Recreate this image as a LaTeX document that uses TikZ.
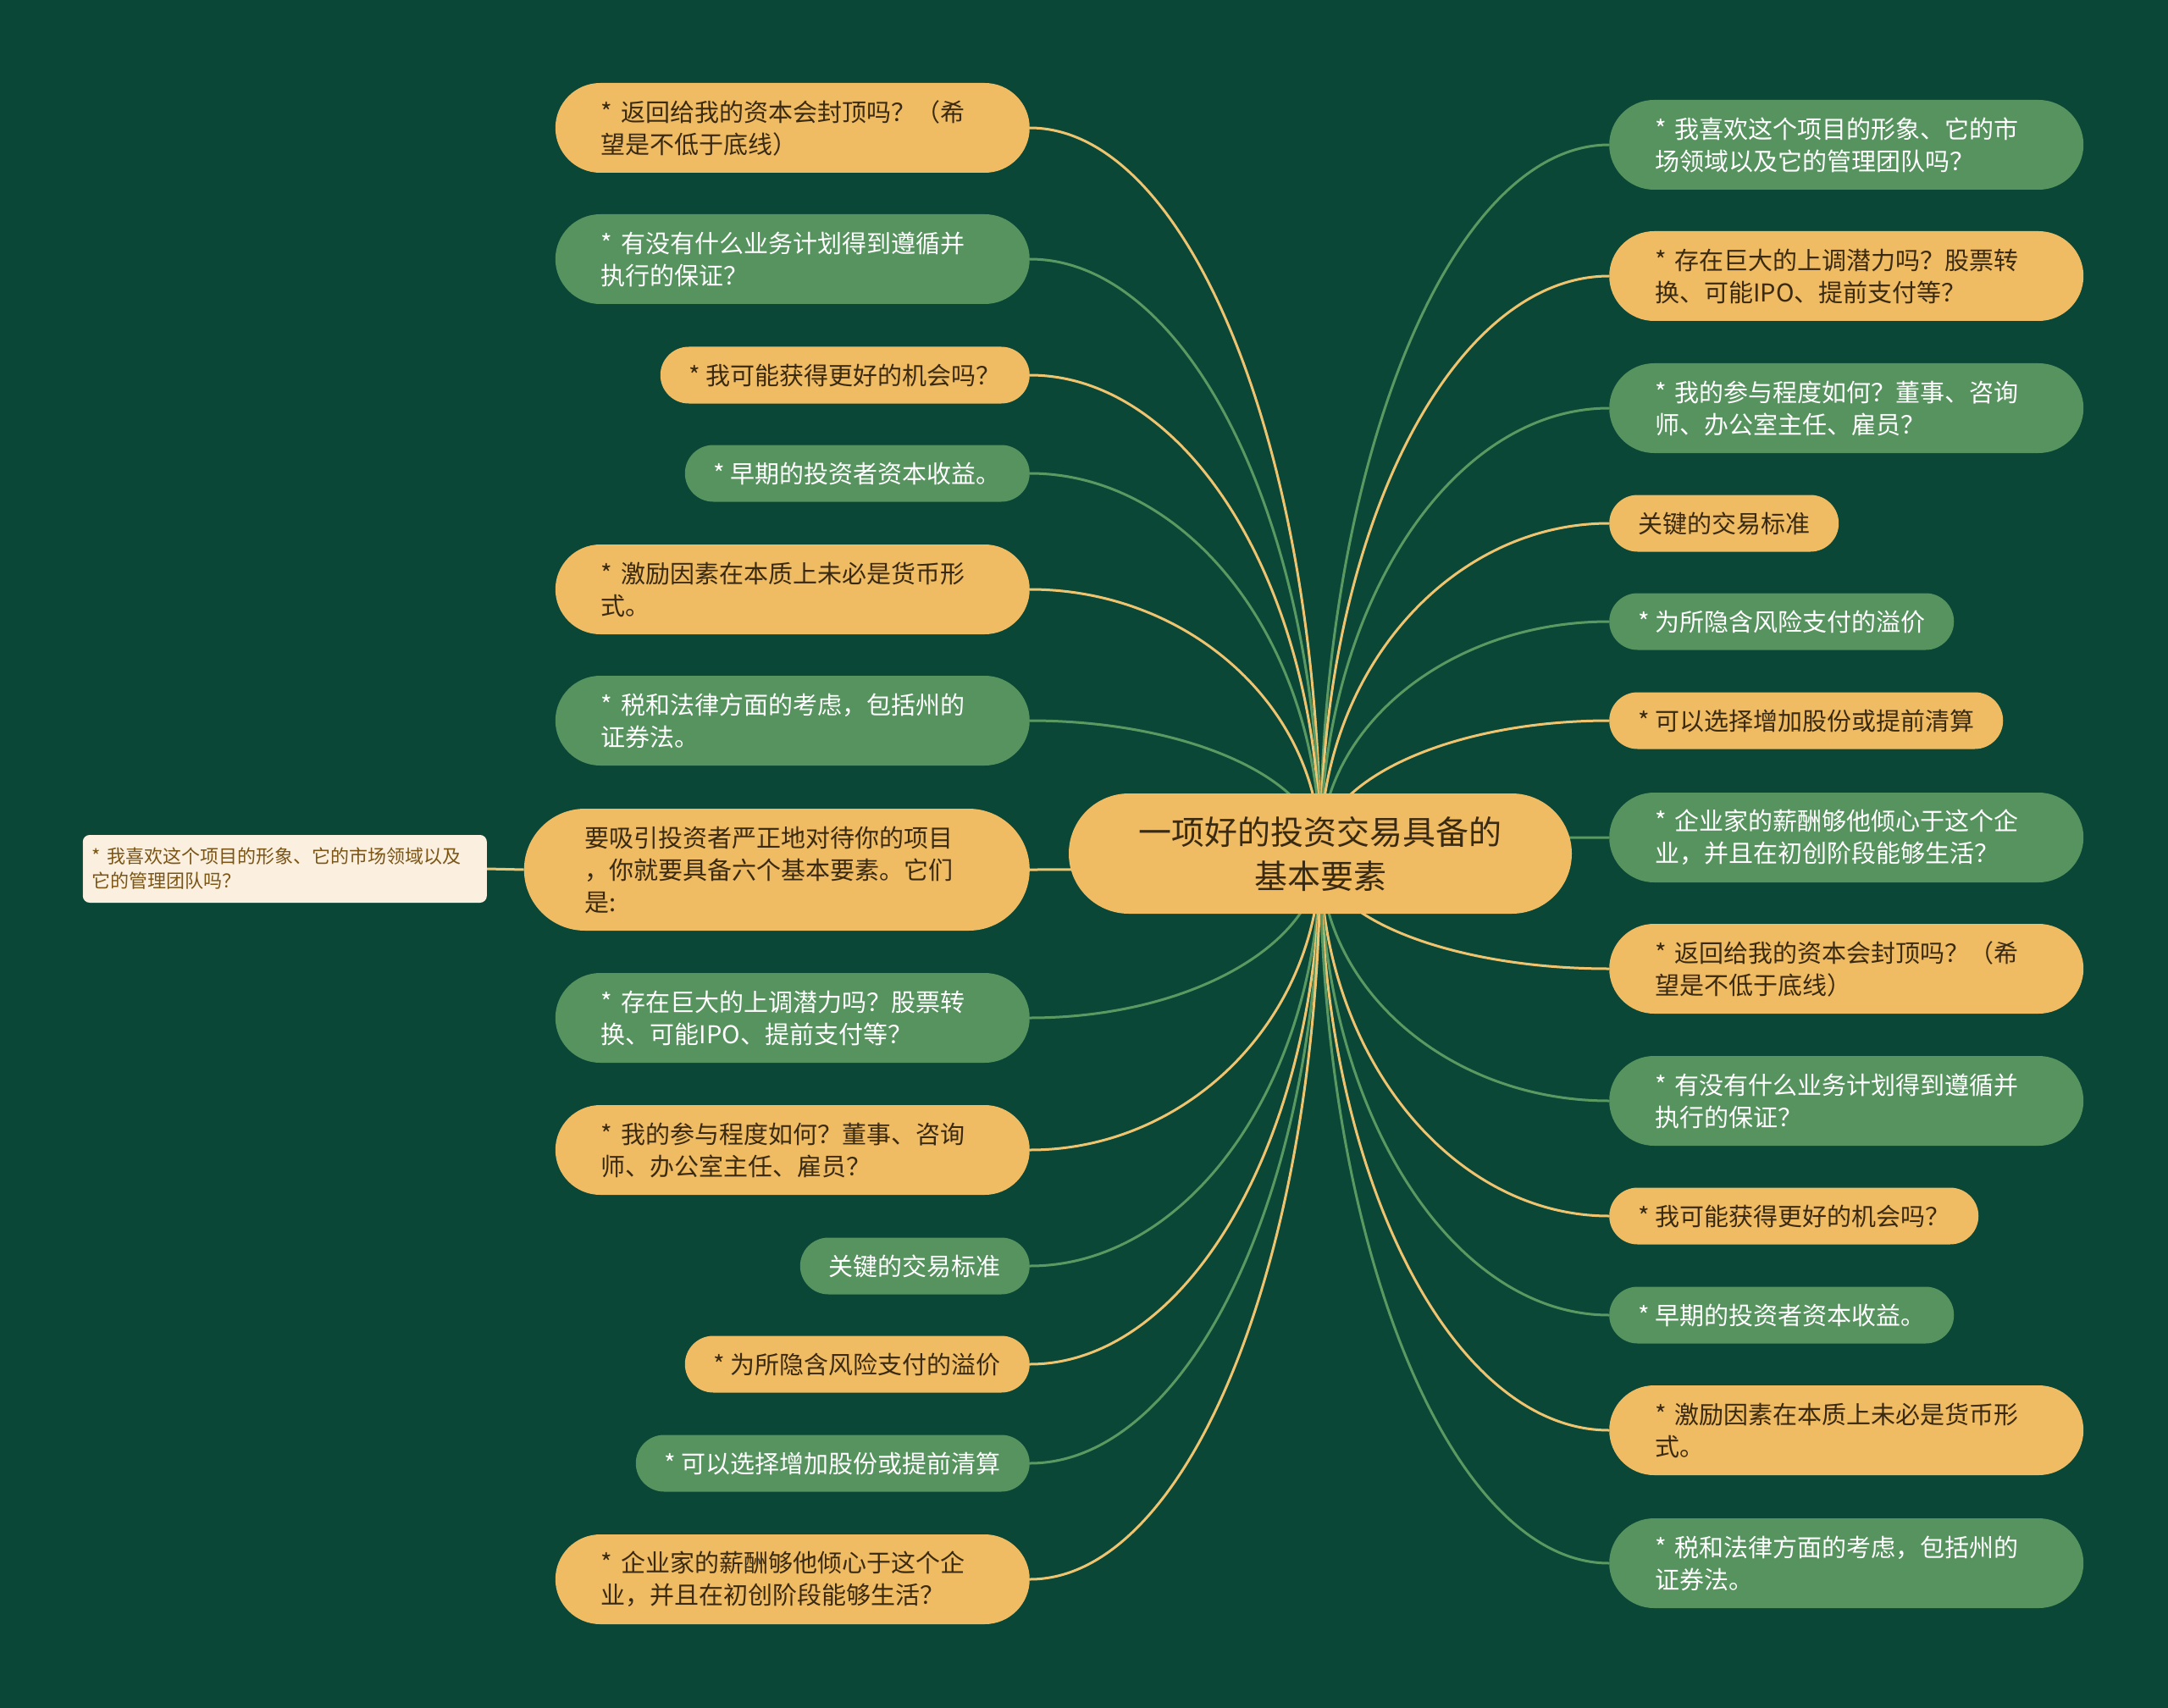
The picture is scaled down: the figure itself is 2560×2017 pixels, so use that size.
\documentclass[tikz,border=0pt]{standalone}
\usepackage{fontspec}
\newfontfamily\cjk{Noto Sans CJK SC}
\usetikzlibrary{calc,backgrounds}
\definecolor{bg}{HTML}{0A4737}
\definecolor{yfill}{HTML}{EFBB63}
\definecolor{gfill}{HTML}{56935E}
\definecolor{yline}{HTML}{EFC470}
\definecolor{gline}{HTML}{5A9A62}
\definecolor{ytext}{HTML}{3B2A12}
\definecolor{cream}{HTML}{FBF0DF}
\definecolor{ctext}{HTML}{7A5516}
\newcommand\mmlink[3]{\draw[#1] (C.center) .. controls ($(C.center)!0.55!(C.center |- #2.#3)$) and ($(#2.#3)!0.55!(C.center |- #2.#3)$) .. (#2.#3);}
\begin{document}
\begin{tikzpicture}[x=1pt,y=-1pt,
 base/.style={inner ysep=0pt, font=\cjk\fontsize{29}{38}\selectfont},
 ynode/.style={base, fill=yfill, text=ytext},
 gnode/.style={base, fill=gfill, text=white},
 two/.style={minimum height=106pt, text width=452pt, inner xsep=54pt, align=left, rounded corners=53pt},
 one/.style={minimum height=67pt, inner xsep=34pt, rounded corners=33.5pt},
 ycon/.style={draw=yline, line width=3pt},
 gcon/.style={draw=gline, line width=3pt},
]
% center
\node[ynode, font=\cjk\fontsize{39}{52}\selectfont, minimum width=594pt, minimum height=142pt, rounded corners=71pt, align=center] (C) at (1559,1008) {一项好的投资交易具备的\\基本要素};

% left side
\node[ynode,two,anchor=east] (L1) at (1216,151) {* 返回给我的资本会封顶吗？（希\\望是不低于底线）};
\node[gnode,two,anchor=east] (L2) at (1216,306) {* 有没有什么业务计划得到遵循并\\执行的保证？};
\node[ynode,one,anchor=east] (L3) at (1216,443) {* 我可能获得更好的机会吗？};
\node[gnode,one,anchor=east] (L4) at (1216,559) {* 早期的投资者资本收益。};
\node[ynode,two,anchor=east] (L5) at (1216,696) {* 激励因素在本质上未必是货币形\\式。};
\node[gnode,two,anchor=east] (L6) at (1216,851) {* 税和法律方面的考虑，包括州的\\证券法。};
\node[ynode, minimum height=144pt, text width=453pt, inner xsep=72pt, align=left, rounded corners=72pt, anchor=east] (L7) at (1216,1027) {要吸引投资者严正地对待你的项目\\，你就要具备六个基本要素。它们\\是:};
\node[gnode,two,anchor=east] (L8) at (1216,1202) {* 存在巨大的上调潜力吗？股票转\\换、可能IPO、提前支付等？};
\node[ynode,two,anchor=east] (L9) at (1216,1358) {* 我的参与程度如何？董事、咨询\\师、办公室主任、雇员？};
\node[gnode,one,anchor=east] (L10) at (1216,1495) {关键的交易标准};
\node[ynode,one,anchor=east] (L11) at (1216,1611) {* 为所隐含风险支付的溢价};
\node[gnode,one,anchor=east] (L12) at (1216,1728) {* 可以选择增加股份或提前清算};
\node[ynode,two,anchor=east] (L13) at (1216,1865) {* 企业家的薪酬够他倾心于这个企\\业，并且在初创阶段能够生活？};

% cream leaf
\node[fill=cream, text=ctext, rounded corners=8pt, font=\cjk\fontsize{22}{29}\selectfont, text width=455pt, inner xsep=11pt, inner ysep=0pt, minimum height=80pt, align=left, anchor=east] (CR) at (575,1026) {* 我喜欢这个项目的形象、它的市场领域以及\\它的管理团队吗？};

% right side
\node[gnode,two,anchor=west] (R1) at (1900,171) {* 我喜欢这个项目的形象、它的市\\场领域以及它的管理团队吗？};
\node[ynode,two,anchor=west] (R2) at (1900,326) {* 存在巨大的上调潜力吗？股票转\\换、可能IPO、提前支付等？};
\node[gnode,two,anchor=west] (R3) at (1900,482) {* 我的参与程度如何？董事、咨询\\师、办公室主任、雇员？};
\node[ynode,one,anchor=west] (R4) at (1900,618) {关键的交易标准};
\node[gnode,one,anchor=west] (R5) at (1900,734) {* 为所隐含风险支付的溢价};
\node[ynode,one,anchor=west] (R6) at (1900,851) {* 可以选择增加股份或提前清算};
\node[gnode,two,anchor=west] (R7) at (1900,989) {* 企业家的薪酬够他倾心于这个企\\业，并且在初创阶段能够生活？};
\node[ynode,two,anchor=west] (R8) at (1900,1144) {* 返回给我的资本会封顶吗？（希\\望是不低于底线）};
\node[gnode,two,anchor=west] (R9) at (1900,1300) {* 有没有什么业务计划得到遵循并\\执行的保证？};
\node[ynode,one,anchor=west] (R10) at (1900,1436) {* 我可能获得更好的机会吗？};
\node[gnode,one,anchor=west] (R11) at (1900,1553) {* 早期的投资者资本收益。};
\node[ynode,two,anchor=west] (R12) at (1900,1689) {* 激励因素在本质上未必是货币形\\式。};
\node[gnode,two,anchor=west] (R13) at (1900,1846) {* 税和法律方面的考虑，包括州的\\证券法。};

\begin{pgfonlayer}{background}
\fill[bg] (0,0) rectangle (2560,2017);
\mmlink{ycon}{L1}{east}
\mmlink{gcon}{L2}{east}
\mmlink{ycon}{L3}{east}
\mmlink{gcon}{L4}{east}
\mmlink{ycon}{L5}{east}
\mmlink{gcon}{L6}{east}
\mmlink{ycon}{L7}{east}
\mmlink{gcon}{L8}{east}
\mmlink{ycon}{L9}{east}
\mmlink{gcon}{L10}{east}
\mmlink{ycon}{L11}{east}
\mmlink{gcon}{L12}{east}
\mmlink{ycon}{L13}{east}
\mmlink{gcon}{R1}{west}
\mmlink{ycon}{R2}{west}
\mmlink{gcon}{R3}{west}
\mmlink{ycon}{R4}{west}
\mmlink{gcon}{R5}{west}
\mmlink{ycon}{R6}{west}
\mmlink{gcon}{R7}{west}
\mmlink{ycon}{R8}{west}
\mmlink{gcon}{R9}{west}
\mmlink{ycon}{R10}{west}
\mmlink{gcon}{R11}{west}
\mmlink{ycon}{R12}{west}
\mmlink{gcon}{R13}{west}
\draw[ycon] (L7.west) -- (CR.east);
\end{pgfonlayer}
\useasboundingbox (0,0) rectangle (2560,2017);
\end{tikzpicture}
\end{document}
